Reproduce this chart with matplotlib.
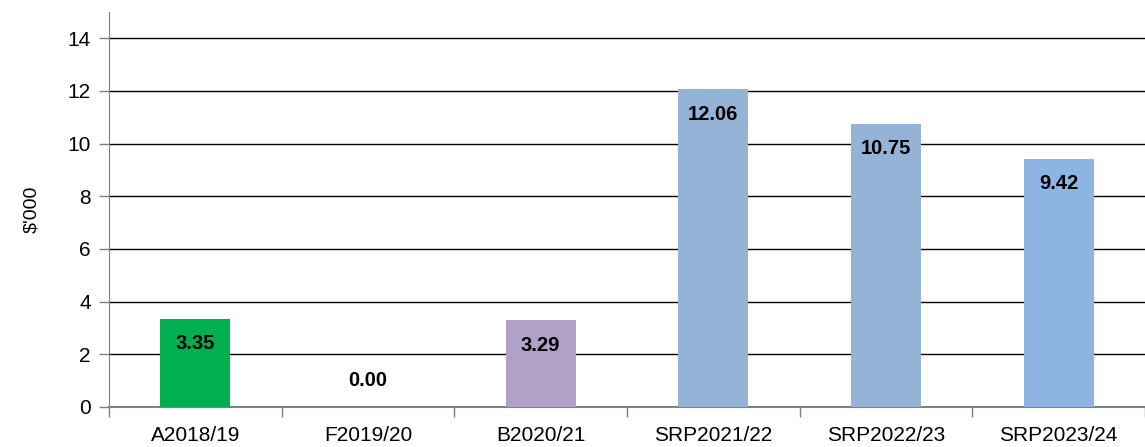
import numpy as np
import matplotlib.pyplot as plt

categories = ['A2018/19', 'F2019/20', 'B2020/21', 'SRP2021/22', 'SRP2022/23', 'SRP2023/24']
values = [3.35, 0.00, 3.29, 12.06, 10.75, 9.42]
colors = ['#00B050', '#FFFFFF', '#B1A0C7', '#95B3D7', '#95B3D7', '#8DB4E2']

plt.rcParams['font.family'] = ['Liberation Sans', 'DejaVu Sans']

fig = plt.figure(figsize=(11.45, 4.47), dpi=100)
ax = fig.add_axes([109 / 1145, 40 / 447, 1036 / 1145, 395 / 447])

x = np.arange(len(categories))
ax.bar(x, values, width=0.405, color=colors, zorder=3)

for xi, v in zip(x, values):
    if v == 0:
        ax.annotate(f'{v:.2f}', (xi, 0), xytext=(0, 19), textcoords='offset points',
                    ha='center', va='center', fontsize=14.5, fontweight='bold', zorder=4)
    else:
        ax.annotate(f'{v:.2f}', (xi, v), xytext=(0, -18), textcoords='offset points',
                    ha='center', va='center', fontsize=14.5, fontweight='bold', zorder=4)

ax.set_xlim(-0.5, len(categories) - 0.5)
ax.set_ylim(0, 15)
ax.set_yticks(np.arange(0, 15, 2))
ax.yaxis.grid(True, color='black', linewidth=1.0, zorder=0)
ax.set_xticks(x)
ax.set_xticklabels(categories)
ax.set_xticks(np.arange(-0.5, len(categories), 1.0), minor=True)
ax.tick_params(axis='x', which='major', length=0, labelsize=15, pad=14)
ax.tick_params(axis='x', which='minor', length=7, color='#808080', width=1)
ax.tick_params(axis='y', length=7, color='#808080', width=1, labelsize=15, pad=6)

for s in ['top', 'right']:
    ax.spines[s].set_visible(False)
ax.spines['left'].set_color('#808080')
ax.spines['bottom'].set_color('#808080')
ax.spines['bottom'].set_linewidth(1.5)

ax.set_ylabel("$'000", fontsize=14, labelpad=20)

fig.savefig('out.png', dpi=100)
